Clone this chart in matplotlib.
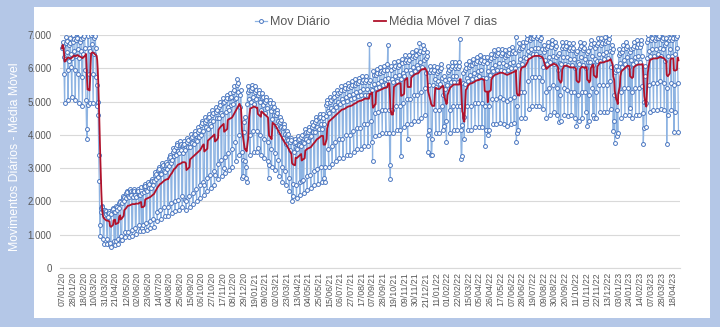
import numpy as np
import pandas as pd
import matplotlib
matplotlib.use('Agg')
import matplotlib.pyplot as plt
from matplotlib.ticker import FuncFormatter

# Weekly levels (thousands), one entry per week starting Monday 06/01/20
# weekday level (Mon-Fri) and weekend level (Sat/Sun)
semana_util = [
    6.60, 6.75, 6.70, 6.80, 6.85, 6.80, 6.90, 6.90, 7.00, 6.90,
    4.50, 1.80, 1.70, 1.65, 1.75, 1.80, 1.95, 2.10, 2.25, 2.30,
    2.30, 2.30, 2.35, 2.45, 2.50, 2.60, 2.80, 2.95, 3.05, 3.10,
    3.30, 3.50, 3.65, 3.70, 3.70, 3.80, 3.90, 4.00, 4.10, 4.30,
    4.40, 4.50, 4.60, 4.70, 4.85, 4.95, 5.05, 5.10, 5.30, 5.50,
    5.20, 4.40, 5.30, 5.35, 5.30, 5.20, 5.10, 5.00, 4.90, 4.80,
    4.60, 4.40, 4.20, 4.00, 3.80, 3.75, 3.85, 3.95, 4.05, 4.10,
    4.25, 4.40, 4.50, 4.50, 4.90, 5.00, 5.10, 5.20, 5.30, 5.35,
    5.40, 5.45, 5.50, 5.55, 5.60, 5.60, 5.60, 5.75, 5.80, 5.85,
    5.90, 5.95, 5.90, 6.00, 6.05, 6.10, 6.20, 6.20, 6.30, 6.35,
    6.45, 6.50, 6.30, 5.90, 5.90, 5.85, 5.95, 5.60, 5.90, 6.00,
    6.00, 6.00, 5.80, 5.95, 6.05, 6.10, 6.15, 6.20, 6.15, 6.15,
    6.25, 6.35, 6.40, 6.40, 6.35, 6.40, 6.45, 6.45, 6.55, 6.60,
    6.80, 6.85, 6.90, 6.90, 6.85, 6.50, 6.60, 6.65, 6.60, 6.40,
    6.60, 6.60, 6.55, 6.55, 6.45, 6.60, 6.55, 6.45, 6.65, 6.55,
    6.70, 6.70, 6.75, 6.80, 6.50, 5.90, 6.40, 6.50, 6.60, 6.50,
    6.60, 6.65, 6.65, 6.00, 6.80, 6.85, 6.85, 6.90, 6.85, 6.70,
    6.85, 6.85, 6.90,
]
semana_fds = [
    5.40, 5.50, 5.60, 5.50, 5.40, 5.30, 5.50, 5.40, 5.40, 5.30,
    1.70, 0.80, 0.80, 0.70, 0.75, 0.80, 0.90, 1.00, 1.00, 1.05,
    1.10, 1.20, 1.20, 1.25, 1.30, 1.35, 1.55, 1.60, 1.70, 1.70,
    1.80, 1.85, 1.90, 2.00, 1.90, 2.00, 2.10, 2.20, 2.30, 2.40,
    2.50, 2.60, 2.70, 2.90, 3.00, 3.10, 3.20, 3.30, 3.50, 3.70,
    3.00, 2.80, 3.70, 3.80, 3.80, 3.70, 3.60, 3.50, 3.30, 3.20,
    3.00, 2.80, 2.70, 2.50, 2.35, 2.30, 2.40, 2.45, 2.55, 2.60,
    2.70, 2.75, 2.80, 2.80, 3.30, 3.40, 3.50, 3.60, 3.60, 3.70,
    3.70, 3.80, 3.90, 3.90, 4.00, 4.00, 4.10, 4.30, 4.35, 4.40,
    4.40, 4.40, 4.40, 4.50, 4.50, 4.60, 4.70, 4.70, 4.80, 4.80,
    4.90, 5.00, 4.50, 4.20, 4.40, 4.40, 4.50, 4.10, 4.40, 4.50,
    4.50, 4.50, 4.20, 4.50, 4.50, 4.60, 4.60, 4.60, 4.50, 4.50,
    4.70, 4.70, 4.75, 4.70, 4.65, 4.70, 4.75, 4.50, 4.90, 4.90,
    5.20, 5.30, 5.30, 5.30, 5.20, 4.90, 5.00, 5.10, 5.00, 4.80,
    5.00, 4.95, 4.90, 4.90, 4.80, 4.90, 4.90, 4.80, 5.00, 4.90,
    5.10, 5.10, 5.10, 5.20, 4.80, 4.40, 4.90, 5.00, 5.00, 4.90,
    5.00, 5.00, 5.05, 4.60, 5.10, 5.15, 5.15, 5.20, 5.15, 5.00,
    5.15, 5.10, 5.15,
]
# typical spread inside a week: Mon..Fri, Sat, Sun
perfil_dia = [0.93, 1.00, 1.03, 1.01, 0.96, 1.08, 0.92]

# single days (holidays, spikes, March 2020 drop)
dias_especiais = {
    "2020-02-24": 4.17, "2020-02-25": 3.87, "2020-02-26": 4.90,
    "2020-03-16": 5.50, "2020-03-17": 5.00, "2020-03-18": 4.60,
    "2020-03-19": 3.40, "2020-03-20": 2.60, "2020-03-21": 1.30,
    "2020-03-22": 0.95, "2020-04-10": 0.70, "2020-04-21": 0.80,
    "2020-05-01": 0.85, "2020-06-11": 1.20, "2020-09-07": 2.00,
    "2020-10-12": 2.50, "2020-11-02": 2.80, "2020-11-20": 3.00,
    "2020-12-24": 3.50, "2020-12-25": 2.70, "2020-12-31": 3.20,
    "2021-01-01": 2.70, "2021-01-25": 3.60, "2021-02-15": 2.70,
    "2021-02-16": 3.10, "2021-04-02": 2.00, "2021-04-21": 2.60,
    "2021-06-03": 2.70, "2021-09-01": 6.74, "2021-09-07": 3.20,
    "2021-10-07": 6.70, "2021-10-11": 3.10, "2021-10-12": 2.67,
    "2021-11-02": 3.37, "2021-11-15": 3.87, "2021-12-08": 6.77,
    "2021-12-24": 4.00, "2021-12-25": 3.50, "2021-12-31": 3.40,
    "2022-01-01": 3.40, "2022-01-25": 4.27, "2022-02-25": 6.87,
    "2022-02-28": 3.27, "2022-03-01": 3.37, "2022-03-02": 4.30,
    "2022-04-15": 3.67, "2022-04-21": 4.00, "2022-06-15": 6.95,
    "2022-06-16": 3.80, "2022-06-17": 4.07, "2022-09-07": 4.40,
    "2022-10-02": 4.60, "2022-10-12": 4.27, "2022-10-30": 4.70,
    "2022-11-02": 4.27, "2022-11-15": 4.50, "2022-12-23": 4.12,
    "2022-12-26": 3.77, "2022-12-30": 3.97, "2023-01-25": 4.80,
    "2023-02-20": 3.72, "2023-02-21": 4.20, "2023-02-22": 5.00,
    "2023-04-07": 3.72, "2023-04-21": 4.10, "2023-04-30": 4.10,
}

AZUL_FUNDO = '#b4c7e7'
AZUL_LINHA = '#8db3e2'
AZUL_MARC = '#4a76c0'
VERMELHO = '#b0122b'
CINZA = '#595959'


def monta_serie():
    datas = pd.date_range('2020-01-06', periods=len(semana_util) * 7, freq='D')
    vals = []
    for hi, lo in zip(semana_util, semana_fds):
        for i, f in enumerate(perfil_dia):
            vals.append((hi if i < 5 else lo) * f)
    s = pd.Series(vals, index=datas)
    for d, v in dias_especiais.items():
        s[pd.Timestamp(d)] = v
    s = s.iloc[1:] * 1000  # first day on the chart is 07/01/20
    return s


serie = monta_serie()
media = serie.rolling(7, min_periods=1).mean()
x = np.arange(len(serie))
rotulos = [d.strftime('%d/%m/%y') for d in serie.index]

fig = plt.figure(figsize=(7.2, 3.27), dpi=100)
fig.patch.set_facecolor(AZUL_FUNDO)

# white chart panel behind the plot area
painel = fig.add_axes([34 / 720, 9 / 327, 676 / 720, 311 / 327], zorder=-5)
painel.set_facecolor('white')
painel.set_xticks([])
painel.set_yticks([])
for s in painel.spines.values():
    s.set_visible(False)

ax = fig.add_axes([60 / 720, 59 / 327, 620 / 720, 233 / 327], zorder=1)
ax.set_facecolor('none')
l1, = ax.plot(x, serie.values, color=AZUL_LINHA, lw=0.9, marker='o', ms=2.8,
              mfc='white', mec=AZUL_MARC, mew=0.7, zorder=2)
l2, = ax.plot(x, media.values, color=VERMELHO, lw=1.3, zorder=3)

ax.set_ylim(0, 7000)
ax.set_xlim(-4, len(serie) + 2)
ax.set_yticks(range(0, 7001, 1000))
ax.yaxis.set_major_formatter(FuncFormatter(lambda v, p: f'{int(v):,}'.replace(',', '.')))
ticks = x[::21]
ax.set_xticks(ticks)
ax.set_xticklabels([rotulos[i] for i in ticks], rotation=90,
                   fontsize=6.3, color=CINZA, family='Liberation Sans')
ax.tick_params(axis='y', labelsize=7, colors=CINZA, length=0, pad=6)
ax.tick_params(axis='x', length=0, pad=3)
for lab in ax.get_yticklabels():
    lab.set_family('Liberation Sans')
ax.grid(axis='y', color='#d9d9d9', lw=0.8, zorder=0)
for s in ['top', 'right', 'left']:
    ax.spines[s].set_visible(False)
ax.spines['bottom'].set_color('#d9d9d9')

fig.text(15 / 720, 0.52, 'Movimentos Diários - Média Móvel', rotation=90,
         ha='center', va='center', color='white', fontsize=8.8,
         family='Liberation Sans')
fig.legend([l1, l2], ['Mov Diário', 'Média Móvel 7 dias'], loc='center',
           bbox_to_anchor=(0.522, 0.933), ncol=2, frameon=False,
           prop={'family': 'Liberation Sans', 'size': 9}, labelcolor=CINZA,
           handlelength=1.0, columnspacing=3.5, handletextpad=0.2)

fig.savefig('out.png', dpi=100, facecolor=fig.get_facecolor())
